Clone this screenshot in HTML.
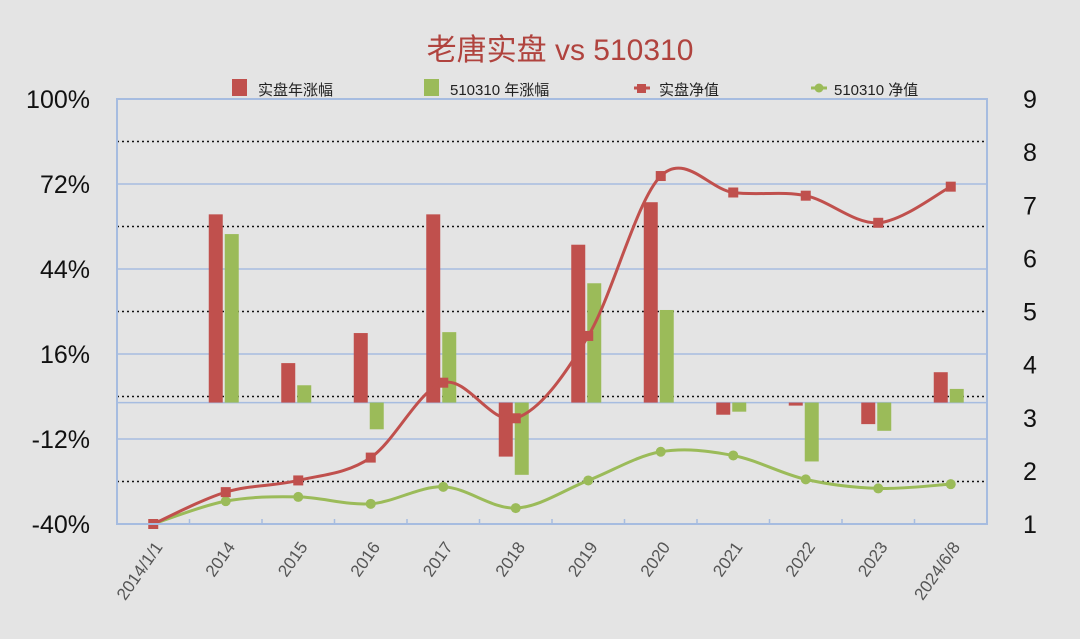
<!DOCTYPE html>
<html><head><meta charset="utf-8"><style>
html,body{margin:0;padding:0;background:#e4e4e4;}
svg{display:block;font-family:"Liberation Sans","Noto Sans CJK SC",sans-serif;}
</style></head><body>
<svg id="chart" width="1080" height="639" viewBox="0 0 1080 639">
<rect width="1080" height="639" fill="#e4e4e4"/>
<text x="560" y="60" text-anchor="middle" font-size="30" fill="#b0433e">老唐实盘 vs 510310</text>
<g>
 <g><rect x="232" y="79" width="15" height="17" fill="#c0504d"/><text x="258" y="95" font-size="15" fill="#222">实盘年涨幅</text></g>
 <g><rect x="424" y="79" width="15" height="17" fill="#9bbb59"/><text x="450" y="95" font-size="15" fill="#222">510310 年涨幅</text></g>
 <g><line x1="634" y1="88" x2="650" y2="88" stroke="#c0504d" stroke-width="3"/><rect x="637" y="84" width="9" height="9" fill="#c0504d"/><text x="659" y="95" font-size="15" fill="#222">实盘净值</text></g>
 <g><line x1="811" y1="88" x2="827" y2="88" stroke="#9bbb59" stroke-width="3"/><circle cx="819" cy="88" r="4.5" fill="#9bbb59"/><text x="834" y="95" font-size="15" fill="#222">510310 净值</text></g>
</g>
<g id="grid"></g><g id="bars"></g><g id="lines"></g><g id="axes"></g>
</svg>
<script>
const categories=["2014/1/1","2014","2015","2016","2017","2018","2019","2020","2021","2022","2023","2024/6/8"];
const realAnnual=[null,62,13,22.9,62,-17.8,52,66,-4,-1,-7.1,10];
const etfAnnual=[null,55.5,5.7,-8.8,23.2,-23.8,39.3,30.5,-3,-19.4,-9.3,4.5];
const realNav=[1.0,1.60,1.82,2.25,3.66,2.99,4.54,7.55,7.24,7.18,6.67,7.35];
const etfNav=[1.0,1.43,1.51,1.38,1.70,1.30,1.82,2.36,2.29,1.84,1.67,1.75];
const leftTicks=[100,72,44,16,-12,-40];
const rightTicks=[9,8,7,6,5,4,3,2,1];
const NS="http://www.w3.org/2000/svg";
const X0=117,X1=987,Y0=99,Y1=524;
const bw=(X1-X0)/categories.length;
const cx=i=>X0+bw*(i+0.5);
const yL=v=>Y1-(v+40)/140*(Y1-Y0);
const yR=v=>Y1-(v-1)/8*(Y1-Y0);
function mk(t,a,p){const e=document.createElementNS(NS,t);for(const k in a)e.setAttribute(k,a[k]);p.appendChild(e);return e;}
const grid=document.getElementById('grid'),bars=document.getElementById('bars'),lines=document.getElementById('lines'),axes=document.getElementById('axes');
for(let i=0;i<leftTicks.length;i++){
 const v=leftTicks[i];
 const g=mk('line',{x1:X0,x2:X1,y1:yL(v),y2:yL(v),stroke:'#a6bce0','stroke-width':1.5},grid);
 
 
 if(i<leftTicks.length-1){
  const m=(v+leftTicks[i+1])/2;
  const d=mk('line',{x1:X0,x2:X1,y1:yL(m),y2:yL(m),stroke:'#111','stroke-width':1.5,'stroke-dasharray':'2,3'},grid);
  
  
 }
 const t=mk('text',{x:90,y:yL(v)+9,'text-anchor':'end','font-size':25,fill:'#111'},axes);
 t.textContent=v+'%';
 
 
}
const z=mk('line',{x1:X0,x2:X1,y1:yL(0),y2:yL(0),stroke:'#a6bce0','stroke-width':1.5},grid);


rightTicks.forEach(v=>{
 const t=mk('text',{x:1030,y:yR(v)+9,'text-anchor':'middle','font-size':25,fill:'#111'},axes);
 t.textContent=v;
 
 
});
const frame=mk('rect',{x:X0,y:Y0,width:X1-X0,height:Y1-Y0,fill:'none',stroke:'#a6bce0','stroke-width':2},axes);


categories.forEach((c,i)=>{
 const tk=mk('line',{x1:X0+bw*i,x2:X0+bw*i,y1:Y1,y2:Y1-5,stroke:'#a6bce0','stroke-width':1.5},axes);
 
 
 const x=cx(i)+10,y=547;
 const t=mk('text',{x:x,y:y,'text-anchor':'end','font-size':17,fill:'#555',transform:`rotate(-55 ${x} ${y})`},axes);
 t.textContent=c;
 
 
});
function bar(v,x,col,name){
 if(v===null)return;
 const y=Math.min(yL(v),yL(0)),h=Math.abs(yL(v)-yL(0));
 const r=mk('rect',{x:x,y:y,width:14,height:Math.max(h,1),fill:col},bars);
 
 
}
categories.forEach((c,i)=>{
 bar(realAnnual[i],cx(i)-17,'#c0504d','bar-real-annual');
 bar(etfAnnual[i],cx(i)-1,'#9bbb59','bar-etf-annual');
});
function smooth(pts){
 let d=`M${pts[0][0]},${pts[0][1]}`;
 for(let i=0;i<pts.length-1;i++){
  const p0=pts[Math.max(0,i-1)],p1=pts[i],p2=pts[i+1],p3=pts[Math.min(pts.length-1,i+2)];
  const c1=[p1[0]+(p2[0]-p0[0])/6,p1[1]+(p2[1]-p0[1])/6];
  const c2=[p2[0]-(p3[0]-p1[0])/6,p2[1]-(p3[1]-p1[1])/6];
  d+=` C${c1[0]},${c1[1]} ${c2[0]},${c2[1]} ${p2[0]},${p2[1]}`;
 }
 return d;
}
function series(vals,col,name,square){
 const pts=vals.map((v,i)=>[cx(i),yR(v)]);
 const p=mk('path',{d:smooth(pts),fill:'none',stroke:col,'stroke-width':3},lines);
 
 
 pts.forEach(pt=>{
  let m;
  if(square)m=mk('rect',{x:pt[0]-5,y:pt[1]-5,width:10,height:10,fill:col},lines);
  else m=mk('circle',{cx:pt[0],cy:pt[1],r:5,fill:col},lines);
  
  
 });
}
series(etfNav,'#9bbb59','etf-nav',false);
series(realNav,'#c0504d','real-nav',true);
</script>
</body></html>
